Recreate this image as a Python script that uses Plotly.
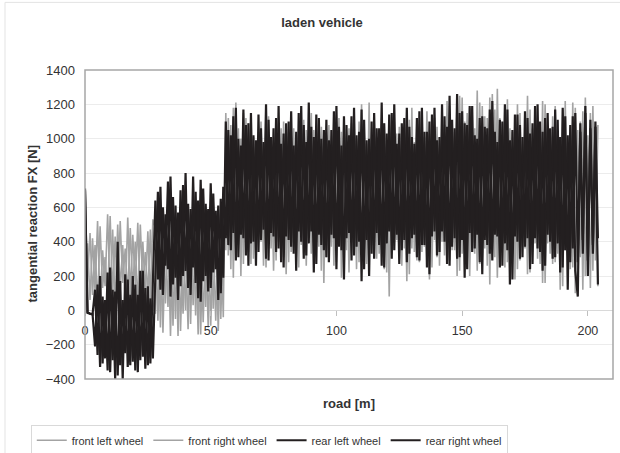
import plotly.graph_objects as go

# road position sampling step [m]
X_STEP = 1.0

front_left_wheel = [
    # 0-27 m
    20, 390, 60, 420, 110, 520, 30, 350, 140, 560,
    80, 470, 10, 500, 120, 380, 50, 540, 90, 440,
    150, 510, 40, 400, 100, 460, 70, 530,
    # 28-55 m
    480, -60, 520, -130, 430, 20, 560, -90, 470, -150,
    510, -20, 400, -110, 540, 30, 450, -140, 500, -70,
    420, -100, 530, 10, 460, -120, 490, -40,
    # 56-204 m
    1150, 320, 1080, 190, 1210, 380, 1000, 270, 1120, 340,
    1040, 300, 980, 410, 1100, 260, 1020, 360, 990, 230,
    1000, 400, 1060, 310, 950, 280, 1030, 350, 1010, 250,
    980, 330, 1050, 420, 1150, 290, 970, 370, 1070, 160,
    1020, 340, 960, 260, 1080, 390, 1040, 300, 990, 220,
    1090, 410, 1000, 280, 1200, 350, 970, 270, 1060, 380,
    1010, 330, 1120, 240, 960, 80, 1080, 400, 1030, 300,
    990, 360, 1050, 210, 1180, 340, 1000, 280, 1060, 370,
    1160, 180, 1020, 410, 1070, 260, 980, 320, 1220, 290,
    1050, 350, 1100, 230, 1240, 380, 1150, 200, 1000, 330,
    1280, 270, 1190, 360, 1120, 150, 1260, 310, 1290, 400,
    1090, 250, 1230, 340, 1040, 180, 1200, 290, 1010, 360,
    1250, 220, 1060, 390, 1080, 270, 1220, 160, 1000, 330,
    1130, 280, 1040, 120, 1170, 350, 1000, 240, 1210, 100,
    1050, 310, 1160, 200, 1020, 130, 1190, 290, 1080,
]

front_right_wheel = [
    # 0-27 m
    0, 180, 450, 90, 380, 20, 490, 130, 310, 60,
    550, 100, 430, 40, 520, 160, 360, 80, 480, 120,
    400, 30, 500, 140, 340, 90, 470, 50,
    # 28-55 m
    -20, 500, -100, 440, 40, 530, -150, 470, -50, 560,
    -120, 410, 0, 490, -80, 540, -30, 450, -140, 520,
    20, 480, -90, 430, -60, 510, -50, 470,
    # 56-204 m
    350, 1120, 240, 1180, 310, 1060, 200, 1150, 380, 1090,
    270, 1010, 330, 1040, 400, 970, 250, 1130, 360, 990,
    290, 1000, 420, 1100, 210, 960, 340, 1060, 300, 1020,
    380, 1110, 260, 980, 330, 1050, 410, 990, 230, 1040,
    310, 1080, 370, 1000, 280, 1120, 190, 970, 350, 1060,
    400, 990, 240, 1100, 320, 1030, 270, 1210, 380, 1030,
    300, 1000, 350, 1090, 220, 1050, 330, 970, 410, 1070,
    260, 1020, 170, 1110, 360, 980, 290, 1050, 340, 1010,
    390, 1030, 250, 1120, 310, 990, 400, 1080, 280, 1190,
    350, 1040, 200, 1250, 330, 1100, 270, 1180, 380, 1060,
    230, 1210, 320, 1130, 260, 1240, 350, 1170, 190, 1120,
    400, 1190, 280, 1060, 330, 1000, 240, 1150, 370, 1100,
    210, 1170, 340, 1030, 300, 1080, 160, 1200, 390, 1040,
    270, 1190, 330, 1010, 140, 1220, 360, 1060, 250, 1180,
    180, 1100, 120, 1240, 300, 1150, 230, 1070, 140,
]

rear_left_wheel = [
    # 0-3 m
    710, -15, -20, -20,
    # 4-27 m
    -210, 150, -330, 80, -280, 220, -360, 120, -400, 400,
    -320, 60, -250, 180, -320, 200, -350, 90, -290, 230,
    -340, 140, -310, 170,
    # 28-55 m
    640, 180, 720, 90, 560, 240, 780, 150, 610, 60,
    700, 200, 800, 130, 590, 250, 690, 70, 760, 170,
    620, 110, 740, 220, 580, 60, 650, 190,
    # 56-204 m
    1100, 380, 1020, 450, 1180, 310, 960, 420, 1080, 260,
    1150, 400, 990, 340, 1060, 470, 1200, 290, 1010, 430,
    1120, 360, 970, 250, 1090, 410, 1160, 330, 1040, 460,
    1190, 300, 980, 390, 1070, 220, 1140, 440, 1000, 350,
    1110, 280, 1050, 420, 1190, 370, 960, 180, 1080, 450,
    1130, 320, 1020, 400, 1170, 240, 990, 200, 1100, 300,
    1060, 380, 1210, 250, 1030, 460, 1150, 350, 970, 270,
    1090, 410, 1180, 330, 1010, 440, 1120, 290, 1180, 380,
    1040, 210, 1140, 460, 990, 340, 1200, 400, 1070, 260,
    1110, 420, 1260, 310, 1160, 190, 1080, 450, 1190, 360,
    1000, 280, 1130, 410, 1060, 330, 1220, 440, 980, 250,
    1100, 390, 1170, 150, 1050, 430, 1140, 300, 1010, 370,
    1120, 240, 1090, 420, 1200, 340, 1040, 260, 1150, 400,
    1070, 310, 1110, 220, 1180, 350, 1020, 280, 1130, 230,
    80, 1090, 330, 1150, 290, 1060, 380, 1100, 420,
]

rear_right_wheel = [
    # 0-3 m
    700, -10, -20, -25,
    # 4-27 m
    120, -260, 200, -310, 60, -350, 250, -290, 110, -380,
    170, -400, 210, -330, 90, -300, 150, -360, 230, -270,
    130, -320, 70, -280,
    # 28-55 m
    210, 690, 120, 600, 260, 750, 80, 660, 190, 570,
    140, 730, 230, 620, 90, 780, 160, 640, 50, 710,
    200, 590, 130, 680, 240, 610, 100, 720,
    # 56-204 m
    420, 1050, 350, 1130, 290, 1000, 440, 1170, 320, 1090,
    390, 1020, 260, 1140, 410, 980, 300, 1110, 450, 1060,
    340, 1190, 280, 1030, 430, 1100, 370, 960, 230, 1150,
    400, 1080, 320, 1210, 460, 1010, 270, 1120, 380, 1050,
    310, 990, 440, 1160, 240, 1070, 350, 1130, 420, 1020,
    290, 1180, 370, 1040, 170, 1110, 410, 1000, 330, 1150,
    450, 1060, 260, 1090, 390, 1140, 300, 1200, 440, 1030,
    350, 1120, 280, 1070, 420, 970, 310, 1160, 380, 1040,
    250, 1100, 430, 1180, 320, 1010, 460, 1130, 270, 1250,
    370, 1060, 300, 1150, 410, 1090, 240, 1190, 340, 1020,
    440, 1120, 210, 1070, 380, 1170, 290, 1040, 430, 1110,
    260, 1200, 350, 990, 180, 1140, 400, 1080, 310, 1160,
    420, 1030, 270, 1190, 360, 1100, 230, 1120, 440, 1060,
    300, 1170, 390, 1010, 250, 1130, 120, 1080, 360, 1150,
    280, 1040, 410, 1190, 200, 1110, 330, 1070, 150,
]

series = [
    ("front left wheel", front_left_wheel, "#a3a3a3", 1.6),
    ("front right wheel", front_right_wheel, "#a3a3a3", 1.6),
    ("rear left wheel", rear_left_wheel, "#231f20", 2.2),
    ("rear right wheel", rear_right_wheel, "#231f20", 2.2),
]

Y_TICKS = [-400, -200, 0, 200, 400, 600, 800, 1000, 1200, 1400]
X_TICKS = [0, 50, 100, 150, 200]

FONT = "Liberation Sans, Arial, sans-serif"

fig = go.Figure()
for name, vals, color, width in series:
    xs = [i * X_STEP for i in range(len(vals))]
    fig.add_trace(go.Scatter(
        x=xs, y=vals, mode="lines", name=name,
        line=dict(color=color, width=width),
    ))

fig.update_layout(
    width=620, height=453,
    margin=dict(l=85, r=7, t=70, b=74, autoexpand=False),
    paper_bgcolor="white", plot_bgcolor="white",
    font=dict(family=FONT, color="#333333"),
    title=dict(text="<b>laden vehicle</b>", font=dict(size=13, color="#333333"),
               x=322 / 620, xref="container", xanchor="center",
               y=1 - 22 / 453, yref="container", yanchor="middle"),
    showlegend=True,
    legend=dict(orientation="h", x=0.349, xanchor="center", y=-0.148, yanchor="top",
                bordercolor="#d9d9d9", borderwidth=1, font=dict(size=11, color="#333333"),
                itemwidth=30, tracegroupgap=0),
    xaxis=dict(range=[0, 210], tickvals=X_TICKS, showgrid=False, zeroline=False,
               showline=False, anchor="free", position=400 / 1800, automargin=False,
               ticks="outside", ticklen=5, tickcolor="#bfbfbf",
               ticklabelstandoff=4, tickfont=dict(size=12.5, color="#333333")),
    yaxis=dict(range=[-400, 1400], tickvals=Y_TICKS, showgrid=True, gridcolor="#ececec",
               zeroline=True, zerolinecolor="#d9d9d9", zerolinewidth=1, showline=False,
               automargin=False,
               ticklabelstandoff=9, tickfont=dict(size=13, color="#333333")),
    annotations=[
        dict(text="<b>road [m]</b>", x=0.5, xref="paper", y=(379 - 403) / 308.5, yref="paper",
             xanchor="center", yanchor="middle", showarrow=False,
             font=dict(size=13, color="#333333")),
        dict(text="<b>tangential reaction FX [N]</b>", x=(32 - 85) / 528, xref="paper",
             y=0.5, yref="paper", xanchor="center", yanchor="middle", textangle=-90,
             showarrow=False, font=dict(size=13, color="#333333")),
    ],
    shapes=[
        dict(type="rect", xref="paper", yref="paper", x0=0, x1=1, y0=0, y1=1,
             line=dict(color="#a6a6a6", width=1.5), fillcolor="rgba(0,0,0,0)"),
        dict(type="rect", xref="paper", yref="paper",
             x0=(5 - 85) / 528, x1=(630 - 85) / 528,
             y0=(379 - 470) / 308.5, y1=(379 - 3) / 308.5,
             line=dict(color="#e3e3e3", width=1), fillcolor="rgba(0,0,0,0)"),
    ],
)

fig.write_html("out.html", config={"displayModeBar": False},
               post_script="document.body.style.margin='0';")
